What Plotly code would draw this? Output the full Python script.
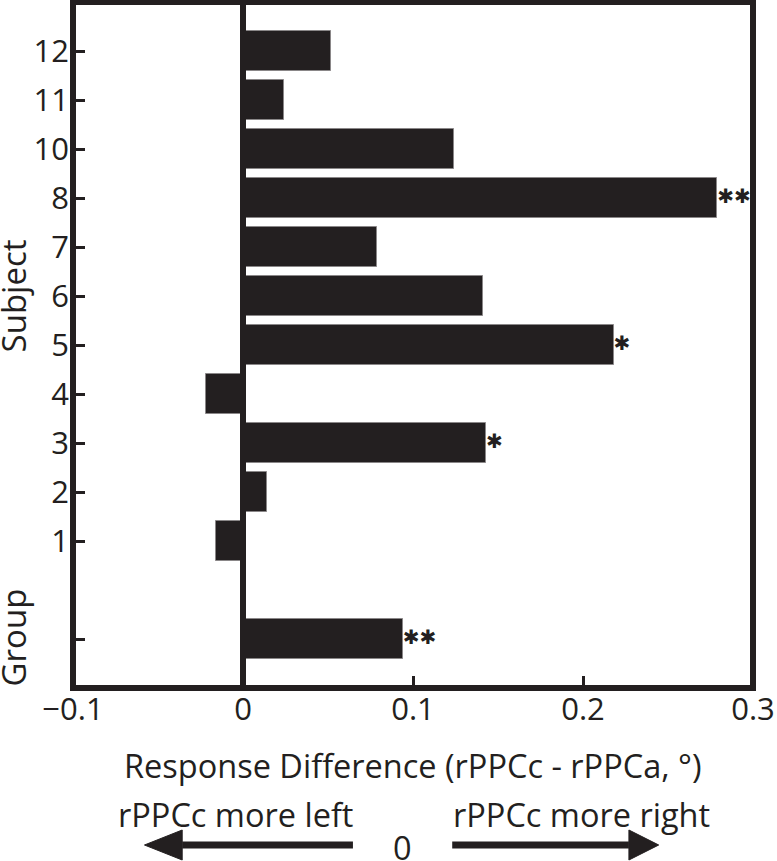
import plotly.graph_objects as go

# ---- data ----
subjects = ["1", "2", "3", "4", "5", "6", "7", "8", "10", "11", "12"]
subject_values = [-0.016, 0.014, 0.143, -0.022, 0.218, 0.141, 0.079, 0.279, 0.124, 0.024, 0.052]
subject_sig = ["", "", "*", "", "*", "", "", "**", "", "", ""]
group_label = "Group"
group_value = 0.094
group_sig = "**"
x_tick_vals = [-0.1, 0, 0.1, 0.2, 0.3]
x_tick_text = ["\u22120.1", "0", "0.1", "0.2", "0.3"]

INK = "#231f20"
FONT = "Open Sans"

# slot positions: group at 0, one empty slot, then subjects in order
group_pos = 0
subject_pos = [i + 2 for i in range(len(subjects))]

all_pos = [group_pos] + subject_pos
all_vals = [group_value] + subject_values
all_sig = [group_sig] + subject_sig

W, H = 777, 861
L, R, T, B = 73, 19, 2, 173
PW, PH = W - L - R, H - T - B


def px(xp):
    return (xp - L) / PW


def py(yp):
    return (H - B - yp) / PH


fig = go.Figure()
fig.add_trace(go.Bar(
    x=all_vals, y=all_pos, orientation="h", width=0.83,
    marker=dict(color=INK, line=dict(color="#8a8788", width=1)),
    hoverinfo="skip", showlegend=False,
))

sig_x = [v for v, s in zip(all_vals, all_sig) if s]
sig_y = [p for p, s in zip(all_pos, all_sig) if s]
sig_t = [s.replace("*", "\u2731") for s in all_sig if s]
fig.add_trace(go.Scatter(
    x=sig_x, y=sig_y, mode="text", text=sig_t, textposition="middle right",
    textfont=dict(family="DejaVu Sans", size=20, color=INK),
    hoverinfo="skip", showlegend=False, cliponaxis=False,
))

fig.update_layout(
    width=W, height=H,
    margin=dict(l=L, r=R, t=T, b=B, pad=0),
    paper_bgcolor="white", plot_bgcolor="white",
    font=dict(family=FONT, color=INK, size=30),
    bargap=0,
    xaxis=dict(
        range=[-0.1, 0.3], tickvals=x_tick_vals, ticktext=x_tick_text,
        ticks="inside", ticklen=12, tickwidth=3, tickcolor=INK,
        showgrid=False, zeroline=False, showline=False,
        ticklabeloverflow="allow",
        tickfont=dict(family=FONT, size=31, color=INK),
    ),
    yaxis=dict(
        range=[-1, 13],
        tickvals=subject_pos + [group_pos], ticktext=subjects + [""],
        ticks="inside", ticklen=12, tickwidth=3, tickcolor=INK,
        showgrid=False, zeroline=False, showline=False,
        ticklabelstandoff=3,
        tickfont=dict(family=FONT, size=31, color=INK),
    ),
)

# frame and zero line
fig.add_shape(type="rect", xref="paper", yref="paper", x0=0, x1=1, y0=0, y1=1,
              line=dict(color=INK, width=6), layer="above")
fig.add_shape(type="line", xref="x", yref="paper", x0=0, x1=0, y0=0, y1=1,
              line=dict(color=INK, width=6), layer="above")

# text annotations
def ann(text, x, y, size=32, angle=0):
    fig.add_annotation(text=text, xref="paper", yref="paper", x=px(x), y=py(y),
                       xanchor="center", yanchor="middle", showarrow=False,
                       textangle=angle, font=dict(family=FONT, size=size, color=INK))

ann("Subject", 13, 296, size=33, angle=-90)
ann(group_label, 13, 637, size=33, angle=-90)
ann("Response Difference (rPPCc - rPPCa, \u00b0)", 416, 765, size=32.5)
ann("rPPCc more left", 237, 814, size=32.5)
ann("rPPCc more right", 585, 814, size=32.5)
ann("0", 405, 847, size=32.5)

# arrows
def arrow(x_tail, x_base, x_tip, y, thick=7, half=15):
    fig.add_shape(type="line", xref="paper", yref="paper",
                  x0=px(x_tail), x1=px(x_base), y0=py(y), y1=py(y),
                  line=dict(color=INK, width=thick))
    path = "M {} {} L {} {} L {} {} Z".format(
        px(x_tip), py(y), px(x_base), py(y - half), px(x_base), py(y + half))
    fig.add_shape(type="path", xref="paper", yref="paper", path=path,
                  fillcolor=INK, line=dict(color=INK, width=1))

arrow(355, 183, 145, 845)
arrow(455, 633, 663, 845)

fig.write_html("out.html", config={"displayModeBar": False},
               post_script="document.body.style.margin='0';document.body.style.overflow='hidden';")
